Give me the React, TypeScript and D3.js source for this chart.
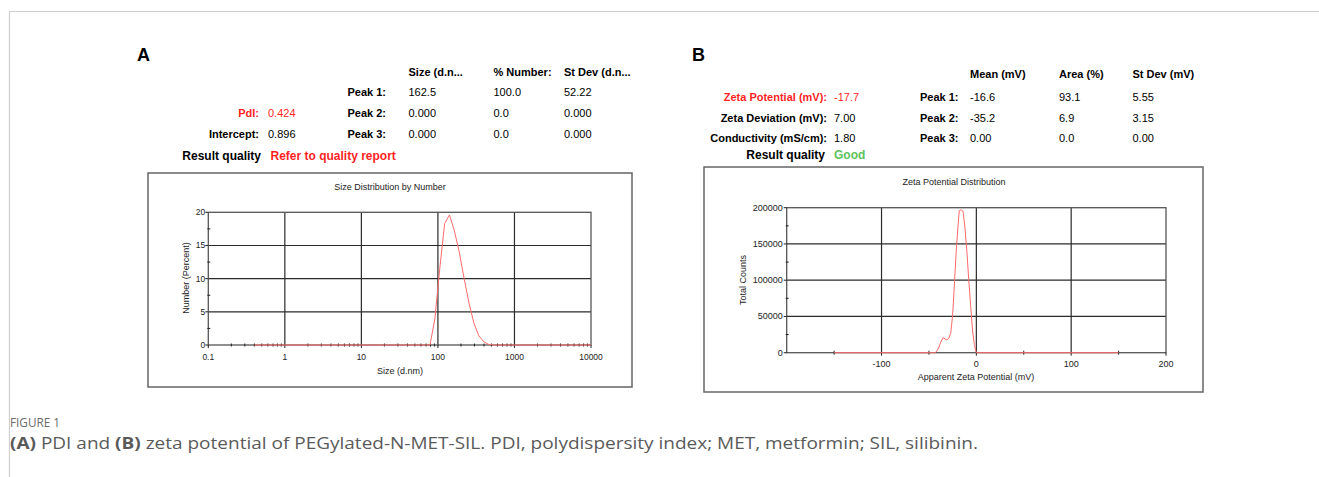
import React from "react";
import * as d3 from "d3";

// ---- panel A data (size distribution by number) ----
const sizeNm = [0.4, 78.8, 91.3, 105.7, 122.4, 141.8, 164.2, 190.1, 220.2, 255, 295.3, 342, 396.1, 458.7, 531.2, 10000];
const sizePct = [0, 0, 4.0, 11.5, 18.3, 19.6, 17.2, 14.0, 10.0, 6.3, 3.3, 1.4, 0.5, 0.1, 0, 0];
const sizeTicks = [0.1, 1, 10, 100, 1000, 10000];
const pctTicks = [0, 5, 10, 15, 20];
const pctMinor = [2.5, 7.5, 12.5, 17.5];

// ---- panel B data (zeta potential distribution) ----
const zetaMv = [-150, -43, -40, -37, -35, -33, -31, -29, -27, -25, -23, -21, -19, -18, -16, -14, -12, -10, -8, -6, -4, -2, 0, 150];
const zetaCounts = [0, 0, 6000, 16000, 21000, 19000, 17500, 20000, 27000, 52000, 98000, 145000, 180000, 196000, 197000, 195000, 172000, 140000, 100000, 65000, 30000, 10000, 0, 0];
const zetaTicks = [-100, 0, 100, 200];
const zetaMinor = [-150, -50, 50, 150];
const countTicks = [0, 50000, 100000, 150000, 200000];
const countMinor = [25000, 75000, 125000, 175000];

// ---- result tables ----
const headA = ["Size (d.n...", "% Number:", "St Dev (d.n..."];
const peaksA = [["162.5", "100.0", "52.22"], ["0.000", "0.0", "0.000"], ["0.000", "0.0", "0.000"]];
const headB = ["Mean (mV)", "Area (%)", "St Dev (mV)"];
const peaksB = [["-16.6", "93.1", "5.55"], ["-35.2", "6.9", "3.15"], ["0.00", "0.0", "0.00"]];
const peakNames = ["Peak 1:", "Peak 2:", "Peak 3:"];

const FONT = "'Liberation Sans', Arial, sans-serif";
const RED = "#ff1f1f";
const LINE = "#ff6a6a";
const GRID = "#2b2b2b";

function SizeChart() {
  const x = d3.scaleLog().domain([0.1, 10000]).range([208.3, 591]);
  const y = d3.scaleLinear().domain([0, 20]).range([345, 212.3]);
  const minor: number[] = [];
  [0.1, 1, 10, 100, 1000].forEach((d) => {
    for (let k = 2; k <= 9; k++) minor.push(d * k);
  });
  const line = d3.line<number>().x((_, i) => x(sizeNm[i])).y((d) => y(d));
  return (
    <g fontFamily={FONT}>
      <rect x={148} y={173} width={484} height={214} fill="#fff" stroke="#666" strokeWidth={1.5} />
      <text x={390} y={190} fontSize={9} textAnchor="middle" fill="#222">Size Distribution by Number</text>
      {sizeTicks.slice(1, -1).map((d) => (
        <line key={"gx" + d} x1={x(d)} x2={x(d)} y1={y(20)} y2={y(0)} stroke={GRID} strokeWidth={1.2} />
      ))}
      {pctTicks.slice(1, -1).map((d) => (
        <line key={"gy" + d} x1={x(0.1)} x2={x(10000)} y1={y(d)} y2={y(d)} stroke={GRID} strokeWidth={1.2} />
      ))}
      <rect x={x(0.1)} y={y(20)} width={x(10000) - x(0.1)} height={y(0) - y(20)} fill="none" stroke="#555" strokeWidth={1.3} />
      {minor.map((d) => (
        <line key={"mx" + d} x1={x(d)} x2={x(d)} y1={y(0) - 1.5} y2={y(0) + 1.5} stroke="#222" />
      ))}
      {sizeTicks.map((d) => (
        <g key={"tx" + d}>
          <line x1={x(d)} x2={x(d)} y1={y(0)} y2={y(0) + 3} stroke="#222" />
          <text x={x(d)} y={360} fontSize={8.5} textAnchor="middle" fill="#222">{String(d)}</text>
        </g>
      ))}
      {pctMinor.map((d) => (
        <line key={"my" + d} x1={x(0.1) - 1} x2={x(0.1) + 2} y1={y(d)} y2={y(d)} stroke="#222" />
      ))}
      {pctTicks.map((d) => (
        <g key={"ty" + d}>
          <line x1={x(0.1) - 3} x2={x(0.1)} y1={y(d)} y2={y(d)} stroke="#222" />
          <text x={x(0.1) - 3} y={y(d) + 3} fontSize={8.5} textAnchor="end" fill="#222">{d}</text>
        </g>
      ))}
      <path d={line(sizePct) || ""} fill="none" stroke={LINE} strokeWidth={1} />
      <text x={400} y={374} fontSize={9} textAnchor="middle" fill="#222">Size (d.nm)</text>
      <text transform="translate(189,278) rotate(-90)" fontSize={9} textAnchor="middle" fill="#222">Number (Percent)</text>
    </g>
  );
}

function ZetaChart() {
  const x = d3.scaleLinear().domain([-200, 200]).range([786.7, 1166]);
  const y = d3.scaleLinear().domain([0, 200000]).range([352.7, 207.7]);
  const line = d3.line<number>().x((_, i) => x(zetaMv[i])).y((d) => y(d));
  return (
    <g fontFamily={FONT}>
      <rect x={704} y={167} width={499} height={225} fill="#fff" stroke="#666" strokeWidth={1.5} />
      <text x={954} y={185} fontSize={9} textAnchor="middle" fill="#222">Zeta Potential Distribution</text>
      {zetaTicks.slice(0, -1).map((d) => (
        <line key={"gx" + d} x1={x(d)} x2={x(d)} y1={y(200000)} y2={y(0)} stroke={GRID} strokeWidth={1.2} />
      ))}
      {countTicks.slice(1, -1).map((d) => (
        <line key={"gy" + d} x1={x(-200)} x2={x(200)} y1={y(d)} y2={y(d)} stroke={GRID} strokeWidth={1.2} />
      ))}
      <rect x={x(-200)} y={y(200000)} width={x(200) - x(-200)} height={y(0) - y(200000)} fill="none" stroke="#555" strokeWidth={1.3} />
      {zetaMinor.map((d) => (
        <line key={"mx" + d} x1={x(d)} x2={x(d)} y1={y(0) - 2} y2={y(0) + 2} stroke="#222" />
      ))}
      {zetaTicks.map((d) => (
        <g key={"tx" + d}>
          <line x1={x(d)} x2={x(d)} y1={y(0)} y2={y(0) + 3} stroke="#222" />
          <text x={x(d)} y={367} fontSize={9} textAnchor="middle" fill="#222">{d}</text>
        </g>
      ))}
      {countMinor.map((d) => (
        <line key={"my" + d} x1={x(-200) - 1} x2={x(-200) + 2} y1={y(d)} y2={y(d)} stroke="#222" />
      ))}
      {countTicks.map((d) => (
        <g key={"ty" + d}>
          <line x1={x(-200) - 3} x2={x(-200)} y1={y(d)} y2={y(d)} stroke="#222" />
          <text x={x(-200) - 4} y={y(d) + 3} fontSize={9} textAnchor="end" fill="#222">{d}</text>
        </g>
      ))}
      <path d={line(zetaCounts) || ""} fill="none" stroke={LINE} strokeWidth={1} />
      <text x={976} y={380} fontSize={9} textAnchor="middle" fill="#222">Apparent Zeta Potential (mV)</text>
      <text transform="translate(746,280) rotate(-90)" fontSize={9} textAnchor="middle" fill="#222">Total Counts</text>
    </g>
  );
}

function TableA() {
  const cols = [408.5, 493.5, 564];
  const rows = [96, 117, 137.5];
  return (
    <g fontFamily={FONT} fontSize={11}>
      <text x={137} y={61} fontSize={18} fontWeight="bold">A</text>
      {headA.map((h, i) => (
        <text key={h} x={cols[i]} y={75.5} fontWeight="bold">{h}</text>
      ))}
      {peaksA.map((r, j) => (
        <g key={j}>
          <text x={386} y={rows[j]} fontWeight="bold" textAnchor="end">{peakNames[j]}</text>
          {r.map((v, i) => (
            <text key={i} x={cols[i]} y={rows[j]}>{v}</text>
          ))}
        </g>
      ))}
      <text x={259} y={117} fontWeight="bold" textAnchor="end" fill={RED}>PdI:</text>
      <text x={268} y={117} fill={RED}>0.424</text>
      <text x={259} y={137.5} fontWeight="bold" textAnchor="end">Intercept:</text>
      <text x={268} y={137.5}>0.896</text>
      <text x={261} y={159.5} fontSize={12} fontWeight="bold" textAnchor="end">Result quality</text>
      <text x={270.5} y={159.5} fontSize={12} fontWeight="bold" fill={RED}>Refer to quality report</text>
    </g>
  );
}

function TableB() {
  const cols = [970, 1059, 1132.5];
  const rows = [101, 121.5, 141.5];
  const left = [
    ["Zeta Potential (mV):", "-17.7", RED],
    ["Zeta Deviation (mV):", "7.00", "#000"],
    ["Conductivity (mS/cm):", "1.80", "#000"],
  ];
  return (
    <g fontFamily={FONT} fontSize={11}>
      <text x={692} y={61} fontSize={18} fontWeight="bold">B</text>
      {headB.map((h, i) => (
        <text key={h} x={cols[i]} y={77.5} fontWeight="bold">{h}</text>
      ))}
      {peaksB.map((r, j) => (
        <g key={j}>
          <text x={958.5} y={rows[j]} fontWeight="bold" textAnchor="end">{peakNames[j]}</text>
          {r.map((v, i) => (
            <text key={i} x={cols[i]} y={rows[j]}>{v}</text>
          ))}
        </g>
      ))}
      {left.map((l, j) => (
        <g key={l[0]}>
          <text x={827} y={rows[j]} fontWeight="bold" textAnchor="end" fill={l[2] === RED ? RED : "#000"}>{l[0]}</text>
          <text x={834} y={rows[j]} fill={l[2]}>{l[1]}</text>
        </g>
      ))}
      <text x={825} y={159} fontSize={12} fontWeight="bold" textAnchor="end">Result quality</text>
      <text x={834} y={159} fontSize={12} fontWeight="bold" fill="#5cc25c">Good</text>
    </g>
  );
}

export default function App() {
  return (
    <svg width={1319} height={477} style={{ position: "absolute", left: 0, top: 0, background: "#fff" }}>
      <path d="M9.5,477 V11.5 H1319" fill="none" stroke="#cfcfcf" strokeWidth={1.2} />
      <TableA />
      <TableB />
      <SizeChart />
      <ZetaChart />
      <text x={10} y={427} fontFamily="'Open Sans', sans-serif" fontSize={12} fill="#6a6a6a" textLength={50} lengthAdjust="spacingAndGlyphs">FIGURE 1</text>
      <text x={10} y={449} fontFamily="'Open Sans', sans-serif" fontSize={15.5} fill="#5a5a5a" textLength={968} lengthAdjust="spacingAndGlyphs">
        <tspan fontWeight="bold">(A)</tspan> PDI and <tspan fontWeight="bold">(B)</tspan> zeta potential of PEGylated-N-MET-SIL. PDI, polydispersity index; MET, metformin; SIL, silibinin.
      </text>
    </svg>
  );
}
